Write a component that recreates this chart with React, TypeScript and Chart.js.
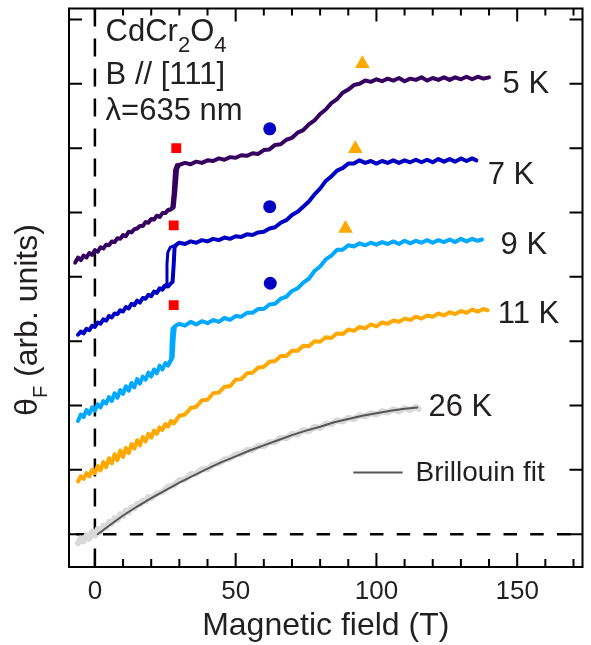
import React, { useEffect, useRef } from 'react';
import { Chart, registerables } from 'chart.js';

Chart.register(...registerables);

// ---------- axes ----------
const X_RANGE = [-9.2, 173.2];
const Y_RANGE = [-0.51, 8.17];
const X_TICKS = [0, 50, 100, 150];
const X_MINOR_TICKS = [10, 20, 30, 40, 60, 70, 80, 90, 110, 120, 130, 140, 160, 170];
const Y_TICKS = [0, 1, 2, 3, 4, 5, 6, 7, 8];

// ---------- data: [field (T), Faraday rotation (arb. units, offset)] ----------
const T5K: number[][] = [
  [-7, 4.22], [-6, 4.30], [-5, 4.26], [-4, 4.33], [-3, 4.30], [-2, 4.37], [-1, 4.34], [0, 4.41],
  [1, 4.39], [2, 4.46], [3, 4.44], [4, 4.50], [5, 4.49], [6, 4.55], [7, 4.54], [8, 4.60], [9, 4.59],
  [10, 4.65], [11, 4.63], [12, 4.70], [13, 4.69], [14, 4.74], [15, 4.75], [16, 4.79], [17, 4.79],
  [18, 4.85], [19, 4.84], [20, 4.90], [21, 4.89], [22, 4.95], [23, 4.93], [24, 4.99], [25, 4.99],
  [26, 5.04], [27, 5.05], [28, 5.08], [28.6, 5.35], [29.2, 5.68], [30, 5.74], [32, 5.77], [34, 5.75],
  [36, 5.79], [38, 5.77], [40, 5.81], [42, 5.80], [44, 5.84], [46, 5.82], [48, 5.86], [50, 5.85],
  [52, 5.89], [54, 5.88], [56, 5.92], [58, 5.91], [60, 5.97], [62, 5.98], [64, 6.05], [66, 6.06],
  [68, 6.13], [70, 6.16], [72, 6.24], [74, 6.28], [76, 6.37], [78, 6.43], [80, 6.53], [82, 6.60],
  [84, 6.70], [86, 6.76], [88, 6.86], [90, 6.91], [92, 6.98], [94, 7.00], [96, 7.05], [98, 7.03],
  [100, 7.07], [102, 7.04], [104, 7.08], [106, 7.05], [108, 7.09], [110, 7.04], [112, 7.08],
  [114, 7.06], [116, 7.10], [118, 7.05], [120, 7.09], [122, 7.06], [124, 7.10], [126, 7.06],
  [128, 7.10], [130, 7.07], [132, 7.11], [134, 7.07], [136, 7.11], [138, 7.08], [140, 7.10],
];
const T5K_LOOP: number[][] = [
  [26.5, 5.03], [27.3, 5.07], [27.8, 5.30], [28.3, 5.66], [29, 5.74], [30.5, 5.75],
];

const T7K: number[][] = [
  [-6, 3.10], [-5, 3.15], [-4, 3.12], [-3, 3.19], [-2, 3.17], [-1, 3.24], [0, 3.22], [1, 3.29],
  [2, 3.27], [3, 3.34], [4, 3.32], [5, 3.39], [6, 3.37], [7, 3.43], [8, 3.42], [9, 3.48], [10, 3.46],
  [11, 3.53], [12, 3.51], [13, 3.58], [14, 3.56], [15, 3.63], [16, 3.60], [17, 3.67], [18, 3.66],
  [19, 3.72], [20, 3.70], [21, 3.77], [22, 3.75], [23, 3.82], [24, 3.80], [25, 3.86], [26, 3.85],
  [27, 3.90], [27.6, 3.92], [28.0, 4.20], [28.3, 4.46], [29, 4.50], [30, 4.53], [32, 4.51],
  [34, 4.55], [36, 4.53], [38, 4.57], [40, 4.55], [42, 4.59], [44, 4.57], [46, 4.61], [48, 4.59],
  [50, 4.63], [52, 4.62], [54, 4.66], [56, 4.65], [58, 4.69], [60, 4.70], [62, 4.75], [64, 4.77],
  [66, 4.84], [68, 4.88], [70, 4.96], [72, 5.01], [74, 5.09], [76, 5.17], [78, 5.28], [80, 5.37],
  [82, 5.49], [84, 5.56], [86, 5.65], [88, 5.69], [90, 5.76], [92, 5.76], [94, 5.81], [96, 5.77],
  [98, 5.80], [100, 5.76], [102, 5.80], [104, 5.77], [106, 5.81], [108, 5.77], [110, 5.81],
  [112, 5.78], [114, 5.82], [116, 5.78], [118, 5.82], [120, 5.78], [122, 5.83], [124, 5.79],
  [126, 5.83], [128, 5.79], [130, 5.84], [132, 5.80], [134, 5.84], [135.5, 5.81],
];
const T7K_LOOP: number[][] = [
  [23.5, 3.80], [24.5, 3.86], [25.3, 3.88], [25.6, 4.20], [25.9, 4.38], [26.8, 4.46], [28, 4.48], [29.5, 4.52],
];

const T9K: number[][] = [
  [-6, 1.76], [-5, 1.86], [-4, 1.82], [-3, 1.93], [-2, 1.87], [-1, 1.97], [0, 1.92], [1, 2.02],
  [2, 1.97], [3, 2.07], [4, 2.03], [5, 2.13], [6, 2.07], [7, 2.19], [8, 2.12], [9, 2.24], [10, 2.18],
  [11, 2.30], [12, 2.23], [13, 2.35], [14, 2.28], [15, 2.41], [16, 2.34], [17, 2.45], [18, 2.40],
  [19, 2.51], [20, 2.45], [21, 2.56], [22, 2.50], [23, 2.62], [24, 2.56], [25, 2.66], [26, 2.62],
  [27, 2.70], [27.6, 2.75], [28.0, 3.05], [28.4, 3.22], [29, 3.25], [30, 3.27], [32, 3.24],
  [34, 3.30], [36, 3.26], [38, 3.31], [40, 3.28], [42, 3.33], [44, 3.30], [46, 3.36], [48, 3.33],
  [50, 3.39], [52, 3.38], [54, 3.44], [56, 3.44], [58, 3.50], [60, 3.50], [62, 3.57], [64, 3.58],
  [66, 3.66], [68, 3.69], [70, 3.78], [72, 3.82], [74, 3.91], [76, 3.97], [78, 4.09], [80, 4.16],
  [82, 4.27], [84, 4.33], [86, 4.42], [88, 4.42], [90, 4.49], [92, 4.47], [94, 4.52], [96, 4.49],
  [98, 4.53], [100, 4.50], [102, 4.54], [104, 4.51], [106, 4.55], [108, 4.51], [110, 4.56],
  [112, 4.52], [114, 4.56], [116, 4.53], [118, 4.57], [120, 4.53], [122, 4.57], [124, 4.54],
  [126, 4.58], [128, 4.54], [130, 4.59], [132, 4.55], [134, 4.59], [136, 4.56], [137.5, 4.58],
];
const T9K_LOOP: number[][] = [
  [25.5, 2.63], [26.4, 2.68], [26.9, 2.72], [27.1, 3.00], [27.4, 3.20], [28.5, 3.24], [30, 3.26],
];

const T11K: number[][] = [
  [-6, 0.82], [-5, 0.90], [-4, 0.86], [-3, 0.95], [-2, 0.90], [-1, 1.00], [0, 0.95], [1, 1.06],
  [2, 0.99], [3, 1.12], [4, 1.04], [5, 1.18], [6, 1.10], [7, 1.24], [8, 1.15], [9, 1.30], [10, 1.20],
  [11, 1.34], [12, 1.26], [13, 1.40], [14, 1.33], [15, 1.46], [16, 1.38], [17, 1.51], [18, 1.44],
  [19, 1.56], [20, 1.50], [21, 1.61], [22, 1.56], [23, 1.66], [24, 1.62], [25, 1.71], [26, 1.67],
  [27, 1.76], [28, 1.72], [30, 1.84], [32, 1.86], [34, 1.96], [36, 1.98], [38, 2.08], [40, 2.09],
  [42, 2.19], [44, 2.20], [46, 2.29], [48, 2.30], [50, 2.40], [52, 2.41], [54, 2.50], [56, 2.51],
  [58, 2.59], [60, 2.60], [62, 2.68], [64, 2.69], [66, 2.77], [68, 2.77], [70, 2.85], [72, 2.85],
  [74, 2.93], [76, 2.92], [78, 3.00], [80, 2.99], [82, 3.06], [84, 3.05], [86, 3.12], [88, 3.11],
  [90, 3.18], [92, 3.16], [94, 3.22], [96, 3.20], [98, 3.26], [100, 3.23], [102, 3.29], [104, 3.27],
  [106, 3.32], [108, 3.30], [110, 3.35], [112, 3.33], [114, 3.38], [116, 3.35], [118, 3.40],
  [120, 3.38], [122, 3.43], [124, 3.40], [126, 3.45], [128, 3.42], [130, 3.47], [132, 3.44],
  [134, 3.49], [136, 3.46], [138, 3.50], [139.5, 3.48],
];

const T26K: number[][] = [
  [-6, -0.14], [-5, -0.06], [-4, -0.11], [-3, -0.02], [-2, -0.07], [-1, 0.04], [0, -0.02], [1, 0.08],
  [2, 0.04], [3, 0.13], [4, 0.10], [5, 0.19], [6, 0.16], [7, 0.25], [8, 0.22], [9, 0.31], [10, 0.28],
  [11, 0.37], [12, 0.34], [13, 0.42], [14, 0.40], [15, 0.47], [16, 0.46], [17, 0.52], [18, 0.51],
  [19, 0.58], [20, 0.56], [22, 0.63], [24, 0.66], [26, 0.74], [28, 0.76], [30, 0.84], [32, 0.85],
  [34, 0.93], [36, 0.94], [38, 1.01], [40, 1.01], [42, 1.08], [44, 1.10], [46, 1.16], [48, 1.18],
  [50, 1.24], [52, 1.25], [54, 1.31], [56, 1.31], [58, 1.37], [60, 1.37], [62, 1.43], [64, 1.43],
  [66, 1.50], [68, 1.49], [70, 1.56], [72, 1.55], [74, 1.62], [76, 1.60], [78, 1.67], [80, 1.65],
  [82, 1.72], [84, 1.71], [86, 1.77], [88, 1.75], [90, 1.81], [92, 1.79], [94, 1.85], [96, 1.83],
  [98, 1.88], [100, 1.86], [102, 1.91], [104, 1.89], [106, 1.94], [108, 1.91], [110, 1.96],
  [112, 1.93], [114, 1.98], [115, 1.95],
];
const FIT_26K: number[][] = [
  [1, 0], [5, 0.13], [10, 0.29], [15, 0.43], [20, 0.56], [25, 0.68], [30, 0.80], [35, 0.91],
  [40, 1.02], [45, 1.12], [50, 1.21], [55, 1.30], [60, 1.38], [65, 1.46], [70, 1.54], [75, 1.61],
  [80, 1.67], [85, 1.74], [90, 1.79], [95, 1.84], [100, 1.88], [105, 1.92], [110, 1.95], [114.5, 1.97],
];

const SQUARES: number[][] = [[28.9, 6.00], [28.0, 4.80], [28.0, 3.56]];
const CIRCLES: number[][] = [[62.1, 6.30], [62.1, 5.09], [62.3, 3.90]];
const TRIANGLES: number[][] = [[95.0, 7.31], [92.5, 5.99], [89.0, 4.75]];

const TEMP_LABELS = [
  { text: '5 K', x: 144.8, y: 6.86 },
  { text: '7 K', x: 139.5, y: 5.45 },
  { text: '9 K', x: 144.1, y: 4.36 },
  { text: '11 K', x: 143.1, y: 3.28 },
  { text: '26 K', x: 118.5, y: 1.83 },
];

// ---------- styles ----------
const FONT = '"Liberation Sans", Arial, Helvetica, sans-serif';
const TEXT_COLOR = '#231f20';
const C5 = '#35005f';
const C7 = '#0000c4';
const C9 = '#00a8ff';
const C11 = '#ffa800';
const C26 = '#d9d9d9';
const CFIT = '#555555';

const pts = (a: number[][]) => a.map(([x, y]) => ({ x, y }));

const lineDs = (label: string, data: number[][], color: string, width = 4) => ({
  label,
  data: pts(data),
  borderColor: color,
  backgroundColor: color,
  borderWidth: width,
  pointRadius: 0,
  fill: false,
  tension: 0,
  borderJoinStyle: 'round' as const,
  borderCapStyle: 'round' as const,
});

const markerDs = (label: string, data: number[][], color: string, style: string, r: number) => ({
  label,
  data: pts(data),
  showLine: false,
  pointStyle: style,
  pointRadius: r,
  pointBackgroundColor: color,
  pointBorderColor: color,
  pointBorderWidth: 0,
  backgroundColor: color,
  borderColor: color,
});

const drawRuns = (
  ctx: CanvasRenderingContext2D,
  x: number,
  y: number,
  runs: { t: string; size: number; dy: number }[],
) => {
  let cx = x;
  for (const r of runs) {
    ctx.font = `${r.size}px ${FONT}`;
    ctx.fillText(r.t, cx, y + r.dy);
    cx += ctx.measureText(r.t).width;
  }
};

const framePlugin = {
  id: 'frameAndText',
  beforeDatasetsDraw(chart: any) {
    const { ctx, chartArea: a, scales } = chart;
    const x = scales.x;
    const y = scales.y;
    ctx.save();
    ctx.strokeStyle = '#000';
    ctx.lineWidth = 2.5;
    ctx.setLineDash([18, 12]);
    ctx.lineDashOffset = 0;
    const x0 = x.getPixelForValue(0);
    ctx.beginPath();
    ctx.moveTo(x0, a.top);
    ctx.lineTo(x0, a.bottom);
    ctx.stroke();
    ctx.setLineDash([13.5, 13.2]);
    ctx.lineDashOffset = 19.4;
    const y0 = y.getPixelForValue(0);
    ctx.beginPath();
    ctx.moveTo(a.left, y0);
    ctx.lineTo(a.right, y0);
    ctx.stroke();
    ctx.restore();
  },
  afterDraw(chart: any) {
    const { ctx, chartArea: a, scales } = chart;
    const x = scales.x;
    const y = scales.y;
    ctx.save();
    // frame
    ctx.strokeStyle = '#000';
    ctx.lineWidth = 2;
    ctx.setLineDash([]);
    ctx.strokeRect(a.left, a.top, a.right - a.left, a.bottom - a.top);
    // ticks
    ctx.beginPath();
    for (const v of Y_TICKS) {
      const py = y.getPixelForValue(v);
      ctx.moveTo(a.left, py);
      ctx.lineTo(a.left + 13, py);
      ctx.moveTo(a.right, py);
      ctx.lineTo(a.right - 13, py);
    }
    for (const v of X_TICKS) {
      const px = x.getPixelForValue(v);
      ctx.moveTo(px, a.bottom);
      ctx.lineTo(px, a.bottom - 14);
      ctx.moveTo(px, a.top);
      ctx.lineTo(px, a.top + 13);
    }
    for (const v of X_MINOR_TICKS) {
      const px = x.getPixelForValue(v);
      ctx.moveTo(px, a.bottom);
      ctx.lineTo(px, a.bottom - 8);
      ctx.moveTo(px, a.top);
      ctx.lineTo(px, a.top + 7);
    }
    ctx.stroke();

    // legend line for Brillouin fit
    ctx.strokeStyle = CFIT;
    ctx.lineWidth = 2;
    ctx.beginPath();
    ctx.moveTo(x.getPixelForValue(91.8), y.getPixelForValue(0.96));
    ctx.lineTo(x.getPixelForValue(109.3), y.getPixelForValue(0.96));
    ctx.stroke();

    ctx.fillStyle = TEXT_COLOR;
    ctx.textAlign = 'left';
    ctx.textBaseline = 'alphabetic';

    // temperature labels
    ctx.font = `31px ${FONT}`;
    for (const l of TEMP_LABELS) {
      ctx.fillText(l.text, x.getPixelForValue(l.x), y.getPixelForValue(l.y));
    }
    ctx.font = `28px ${FONT}`;
    ctx.fillText('Brillouin fit', x.getPixelForValue(113.9), y.getPixelForValue(0.82));

    // sample info
    const ix = x.getPixelForValue(3.8);
    drawRuns(ctx, ix, y.getPixelForValue(7.67), [
      { t: 'CdCr', size: 31, dy: 0 },
      { t: '2', size: 22, dy: 11 },
      { t: 'O', size: 31, dy: 0 },
      { t: '4', size: 22, dy: 11 },
    ]);
    ctx.font = `31px ${FONT}`;
    ctx.fillText('B // [111]', ix, y.getPixelForValue(7.0));
    ctx.fillText('\u03bb=635 nm', ix, y.getPixelForValue(6.43));

    // y-axis title (rotated)
    const runs = [
      { t: '\u03b8', size: 32, dy: 0 },
      { t: 'F', size: 20, dy: 10 },
      { t: ' (arb. units)', size: 32, dy: 0 },
    ];
    let total = 0;
    for (const r of runs) {
      ctx.font = `${r.size}px ${FONT}`;
      total += ctx.measureText(r.t).width;
    }
    ctx.translate(37, 320 + total / 2);
    ctx.rotate(-Math.PI / 2);
    drawRuns(ctx, 0, 0, runs);
    ctx.restore();
  },
};

export default function App() {
  const ref = useRef<HTMLCanvasElement | null>(null);
  useEffect(() => {
    if (!ref.current) return;
    const chart = new Chart(ref.current, {
      type: 'line',
      data: {
        datasets: [
          markerDs('squares', SQUARES, '#ff0000', 'rect', 7),
          markerDs('circles', CIRCLES, '#0000c4', 'circle', 6.5),
          markerDs('triangles', TRIANGLES, '#ffa800', 'triangle', 8.5),
          lineDs('Brillouin fit', FIT_26K, CFIT, 2),
          lineDs('5 K loop', T5K_LOOP, C5, 3),
          lineDs('5 K', T5K, C5),
          lineDs('7 K loop', T7K_LOOP, C7, 3),
          lineDs('7 K', T7K, C7),
          lineDs('9 K loop', T9K_LOOP, C9, 3),
          lineDs('9 K', T9K, C9),
          lineDs('11 K', T11K, C11),
          lineDs('26 K', T26K, C26, 6),
        ] as any,
      },
      options: {
        animation: false,
        responsive: false,
        maintainAspectRatio: false,
        events: [],
        layout: { padding: { left: 69, right: 2, top: 8, bottom: 0 } },
        plugins: { legend: { display: false }, tooltip: { enabled: false } },
        scales: {
          x: {
            type: 'linear',
            min: X_RANGE[0],
            max: X_RANGE[1],
            grid: { display: false, drawTicks: false },
            border: { display: false },
            afterBuildTicks: (s: any) => {
              s.ticks = X_TICKS.map((v) => ({ value: v }));
            },
            afterFit: (s: any) => {
              s.height = 78;
            },
            ticks: {
              padding: 9,
              color: TEXT_COLOR,
              font: { family: FONT, size: 26 },
              maxRotation: 0,
              autoSkip: false,
            },
            title: {
              display: true,
              text: 'Magnetic field (T)',
              color: TEXT_COLOR,
              font: { family: FONT, size: 32 },
              padding: 0,
            },
          },
          y: {
            type: 'linear',
            display: false,
            min: Y_RANGE[0],
            max: Y_RANGE[1],
          },
        },
      } as any,
      plugins: [framePlugin],
    });
    return () => chart.destroy();
  }, []);
  return (
    <div style={{ position: 'fixed', left: 0, top: 0, width: 591, height: 645, background: '#fff' }}>
      <canvas ref={ref} width={591} height={645} style={{ display: 'block' }} />
    </div>
  );
}
